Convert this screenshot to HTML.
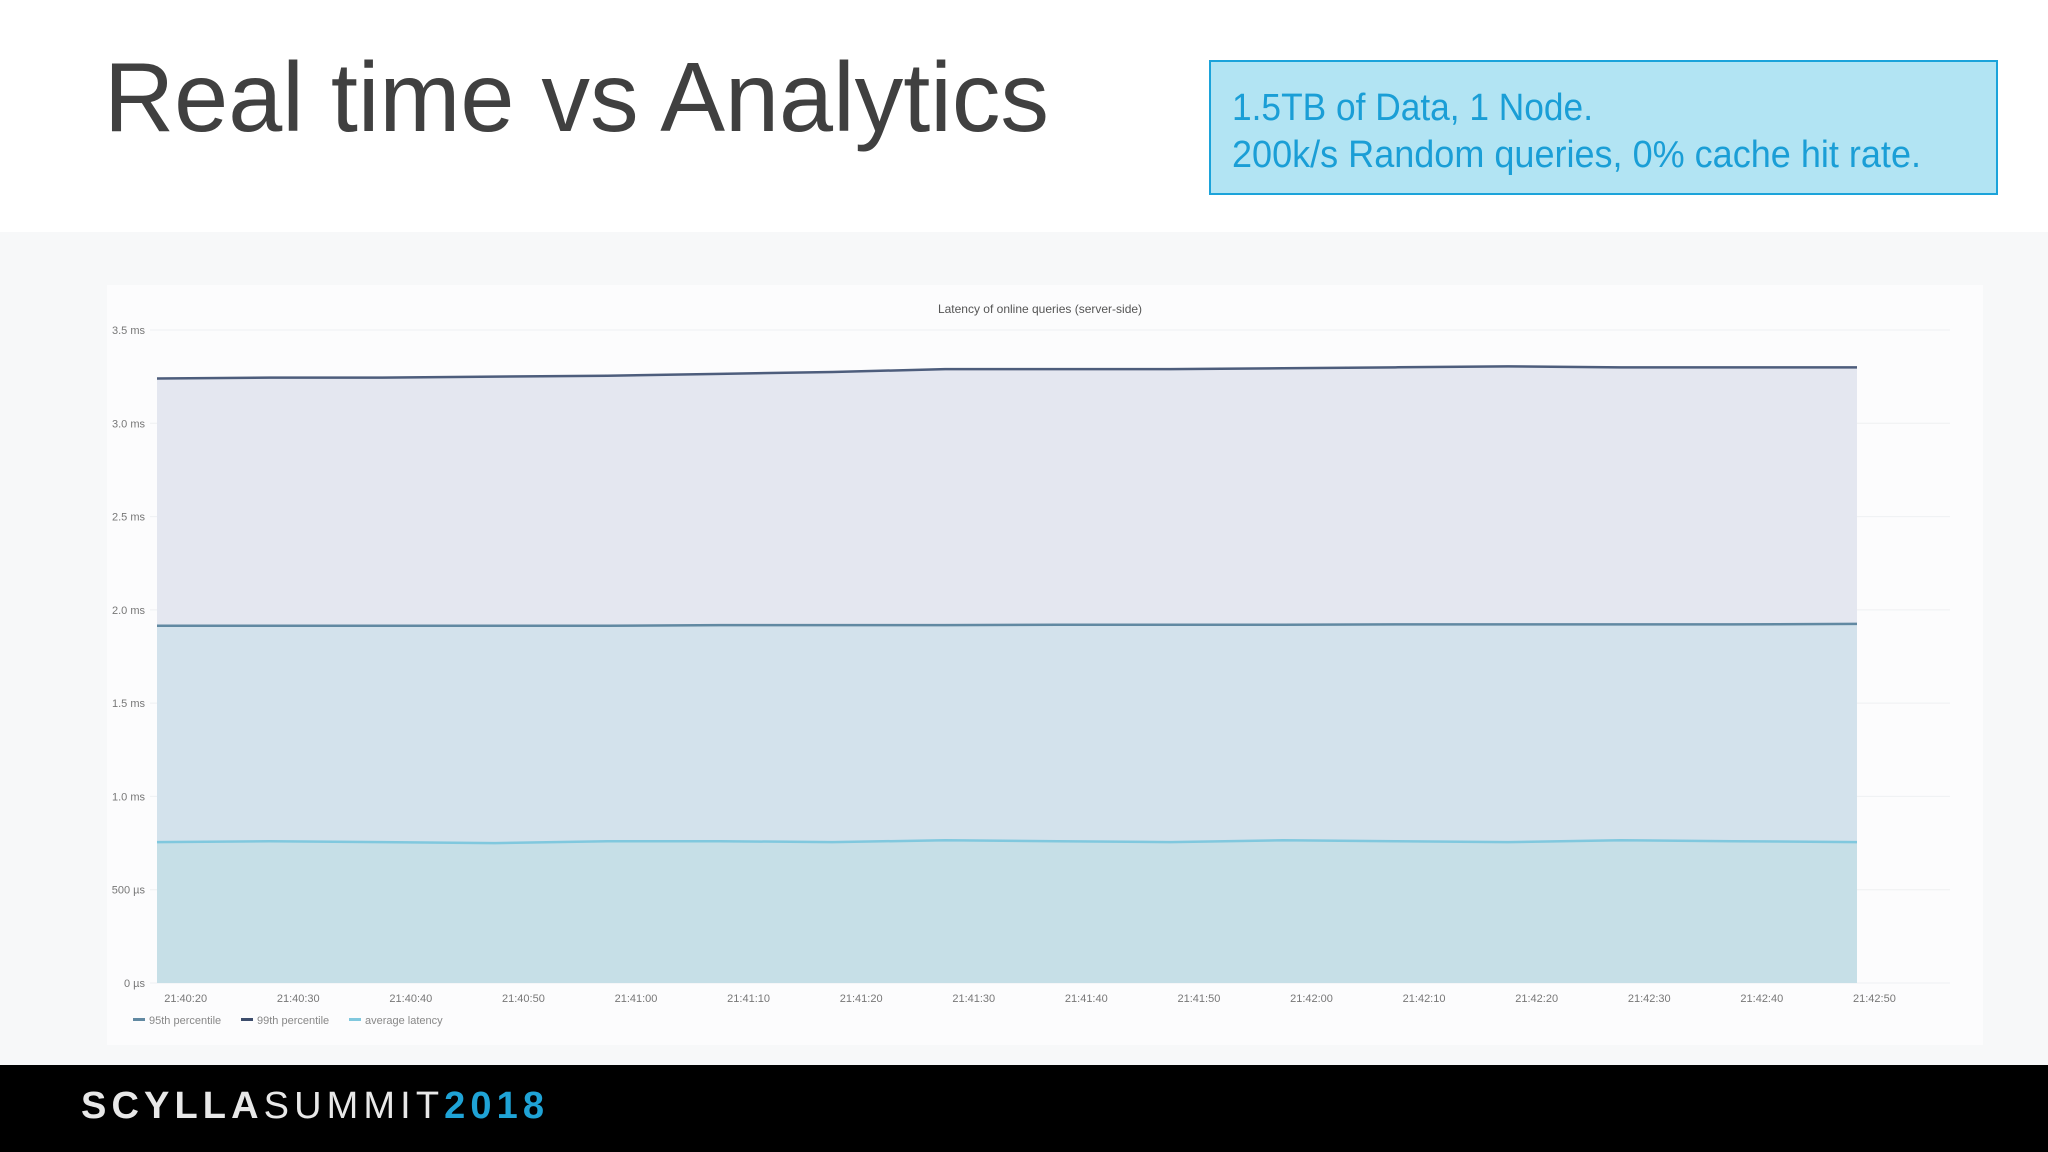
<!DOCTYPE html>
<html><head><meta charset="utf-8"><style>
html,body{margin:0;padding:0;width:2048px;height:1152px;overflow:hidden;background:#fff;}
svg{display:block;}
</style></head><body>
<svg width="2048" height="1152" viewBox="0 0 2048 1152" xmlns="http://www.w3.org/2000/svg" font-family="Liberation Sans, sans-serif">
  <rect x="0" y="0" width="2048" height="1152" fill="#ffffff"/>
  <text x="104" y="131" font-size="98" fill="#404040" textLength="945" lengthAdjust="spacingAndGlyphs">Real time vs Analytics</text>
  <g>
    <rect x="1210" y="61" width="787" height="133" fill="#b2e4f3" stroke="#1ba3da" stroke-width="2"/>
    <text x="1232" y="120" font-size="38" fill="#1a9ed6" textLength="361" lengthAdjust="spacingAndGlyphs">1.5TB of Data, 1 Node.</text>
    <text x="1232" y="167" font-size="38" fill="#1a9ed6" textLength="689" lengthAdjust="spacingAndGlyphs">200k/s Random queries, 0% cache hit rate.</text>
  </g>
  <rect x="0" y="232" width="2048" height="833" fill="#f7f8f9"/>
  <rect x="107" y="285" width="1876" height="760" fill="#fcfcfd"/>
  <text x="1040" y="313" font-size="12" fill="#555" text-anchor="middle">Latency of online queries (server-side)</text>
  <g id="chart"></g>
  <rect x="0" y="1065" width="2048" height="87" fill="#000"/>
  <text x="81" y="1118" font-size="38" textLength="463" lengthAdjust="spacing"><tspan fill="#e8e8e8" font-weight="bold">SCYLLA</tspan><tspan fill="#e8e8e8">SUMMIT</tspan><tspan fill="#1fa3d6" font-weight="bold">2018</tspan></text>
</svg>
<script>
const secs = [0, 10, 20, 30, 40, 50, 60, 70, 80, 90, 100, 110, 120, 130, 140, 151];
const p99 = [3.24, 3.245, 3.245, 3.25, 3.255, 3.265, 3.275, 3.29, 3.29, 3.29, 3.295, 3.30, 3.305, 3.30, 3.30, 3.30];
const p95 = [1.915, 1.915, 1.915, 1.915, 1.915, 1.918, 1.918, 1.918, 1.92, 1.92, 1.92, 1.922, 1.922, 1.922, 1.922, 1.925];
const avg = [0.755, 0.76, 0.755, 0.75, 0.76, 0.76, 0.755, 0.765, 0.76, 0.755, 0.765, 0.76, 0.755, 0.765, 0.76, 0.755];
const yTicks = [0, 0.5, 1.0, 1.5, 2.0, 2.5, 3.0, 3.5];
const yTickLabels = ["0 µs", "500 µs", "1.0 ms", "1.5 ms", "2.0 ms", "2.5 ms", "3.0 ms", "3.5 ms"];
const xTickSecs = [1, 11, 21, 31, 41, 51, 61, 71, 81, 91, 101, 111, 121, 131, 141, 151];
const xTickLabels = ["21:40:20","21:40:30","21:40:40","21:40:50","21:41:00","21:41:10","21:41:20","21:41:30","21:41:40","21:41:50","21:42:00","21:42:10","21:42:20","21:42:30","21:42:40","21:42:50"];

const NS = "http://www.w3.org/2000/svg";
const g = document.getElementById('chart');
const X0 = 157, X1 = 1857, Y0 = 983, Y1 = 330;
function xs(s){ return X0 + (s - secs[0]) / (secs[secs.length-1] - secs[0]) * (X1 - X0); }
function ys(v){ return Y0 - v / 3.5 * (Y0 - Y1); }
function mk(tag, attrs){ const e = document.createElementNS(NS, tag); for (const k in attrs) e.setAttribute(k, attrs[k]); g.appendChild(e); return e; }

yTicks.forEach((v, i) => {
  const l = mk('line', {x1: 150, x2: 1950, y1: ys(v), y2: ys(v), stroke: '#eef0f2', 'stroke-width': 1});
  
  
  const t = mk('text', {x: 145, y: ys(v) + 4, 'font-size': 11, fill: '#777', 'text-anchor': 'end'});
  t.textContent = yTickLabels[i];
  
  
});

function series(vals, fill, stroke, name){
  let d = 'M' + xs(secs[0]) + ',' + ys(vals[0]);
  for (let i = 1; i < secs.length; i++) d += ' L' + xs(secs[i]) + ',' + ys(vals[i]);
  const area = mk('path', {d: d + ' L' + xs(secs[secs.length-1]) + ',' + Y0 + ' L' + xs(secs[0]) + ',' + Y0 + ' Z', fill: fill});
  
  
  const line = mk('path', {d: d, fill: 'none', stroke: stroke, 'stroke-width': 2.5});
  
  
}
series(p99, '#e4e7f0', '#4d5d7c', 'p99');
series(p95, '#d3e2ec', '#6189a2', 'p95');
series(avg, '#c6dfe7', '#80c8de', 'average-latency');

xTickSecs.forEach((s, i) => {
  const t = mk('text', {x: xs(s) - 4, y: 1002, 'font-size': 11, fill: '#777'});
  t.textContent = xTickLabels[i];
  
  
});

const legendNames = ["95th percentile", "99th percentile", "average latency"];
const legendColors = ["#6189a2", "#3d4d6c", "#80c8de"];
let lx = 133;
legendNames.forEach((n, i) => {
  const sw = mk('rect', {x: lx, y: 1018, width: 12, height: 3, fill: legendColors[i]});
  
  
  const t = mk('text', {x: lx + 16, y: 1024, 'font-size': 11, fill: '#888'});
  t.textContent = n;
  
  
  lx += 108;
});
</script>
</body></html>
